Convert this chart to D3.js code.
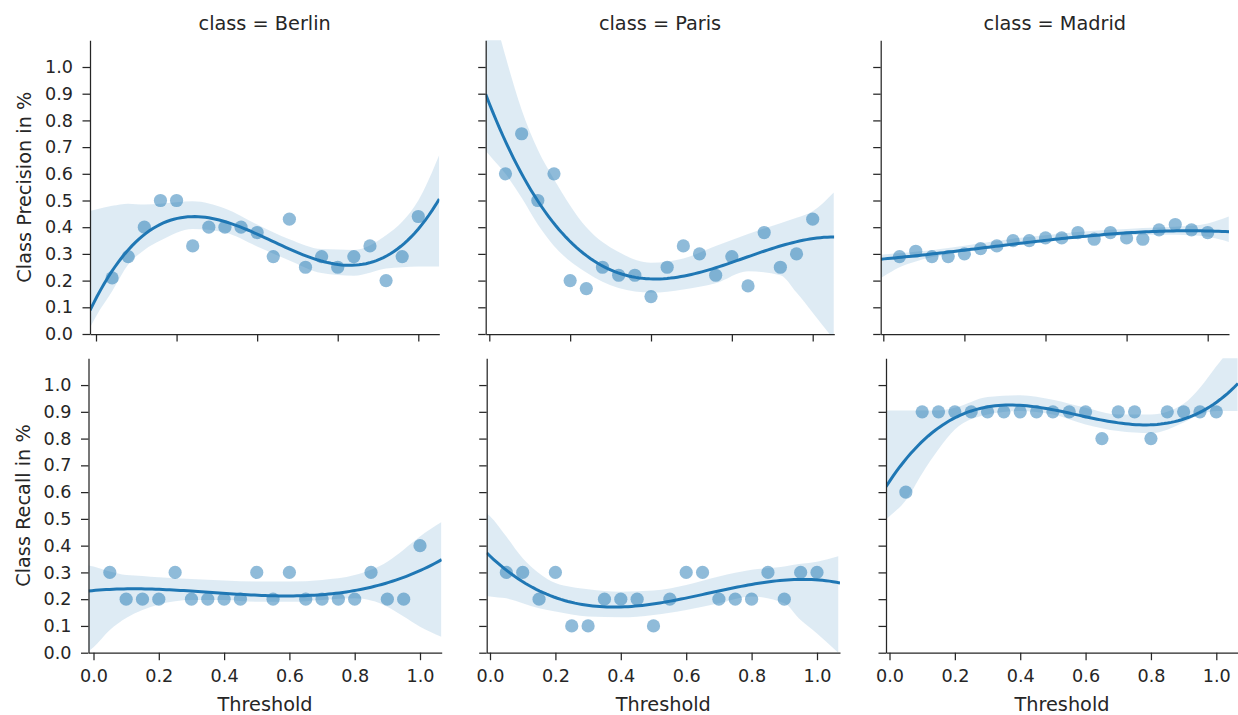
<!DOCTYPE html>
<html>
<head>
<meta charset="utf-8">
<script src="https://cdn.jsdelivr.net/npm/d3@7"></script>
<style>
  body { margin: 0; background: #fff; }
  svg { display: block; font-family: "DejaVu Sans", sans-serif; }
</style>
</head>
<body>
<svg id="chart" width="1238" height="715"></svg>
<script>
// data
var thresholds = [0.05, 0.10, 0.15, 0.20, 0.25, 0.30, 0.35, 0.40, 0.45, 0.50,
                  0.55, 0.60, 0.65, 0.70, 0.75, 0.80, 0.85, 0.90, 0.95, 1.00];
var classes = ["Berlin", "Paris", "Madrid"];

var berlinPrecision = [0.21, 0.29, 0.40, 0.50, 0.50, 0.33, 0.40, 0.40, 0.40, 0.38,
                       0.29, 0.43, 0.25, 0.29, 0.25, 0.29, 0.33, 0.20, 0.29, 0.44];
var parisPrecision  = [0.60, 0.75, 0.50, 0.60, 0.20, 0.17, 0.25, 0.22, 0.22, 0.14,
                       0.25, 0.33, 0.30, 0.22, 0.29, 0.18, 0.38, 0.25, 0.30, 0.43];
var madridPrecision = [0.29, 0.31, 0.29, 0.29, 0.30, 0.32, 0.33, 0.35, 0.35, 0.36,
                       0.36, 0.38, 0.355, 0.38, 0.36, 0.355, 0.39, 0.41, 0.39, 0.38];

var berlinRecall = [0.3, 0.2, 0.2, 0.2, 0.3, 0.2, 0.2, 0.2, 0.2, 0.3,
                    0.2, 0.3, 0.2, 0.2, 0.2, 0.2, 0.3, 0.2, 0.2, 0.4];
var parisRecall  = [0.3, 0.3, 0.2, 0.3, 0.1, 0.1, 0.2, 0.2, 0.2, 0.1,
                    0.2, 0.3, 0.3, 0.2, 0.2, 0.2, 0.3, 0.2, 0.3, 0.3];
var madridRecall = [0.6, 0.9, 0.9, 0.9, 0.9, 0.9, 0.9, 0.9, 0.9, 0.9,
                    0.9, 0.9, 0.8, 0.9, 0.9, 0.8, 0.9, 0.9, 0.9, 0.9];

// confidence band edges (bootstrap band)
var bandX = [-0.02, 0.0, 0.05, 0.1, 0.15, 0.2, 0.3, 0.4, 0.5, 0.6, 0.7, 0.8, 0.9, 0.95, 1.0, 1.065];
var berlinPrecisionHi = [0.46, 0.466, 0.48, 0.488, 0.485, 0.488, 0.497, 0.47, 0.41, 0.355, 0.318, 0.315, 0.37, 0.42, 0.50, 0.67];
var berlinPrecisionLo = [0.02, 0.066, 0.16, 0.26, 0.315, 0.35, 0.393, 0.38, 0.328, 0.275, 0.228, 0.218, 0.245, 0.25, 0.253, 0.253];
var parisPrecisionHi  = [1.37, 1.27, 1.04, 0.84, 0.69, 0.58, 0.40, 0.307, 0.267, 0.283, 0.33, 0.375, 0.415, 0.435, 0.46, 0.53];
var parisPrecisionLo  = [0.70, 0.67, 0.60, 0.51, 0.41, 0.33, 0.23, 0.172, 0.155, 0.167, 0.19, 0.235, 0.22, 0.155, 0.08, -0.02];
var madridPrecisionHi = [0.296, 0.298, 0.302, 0.308, 0.314, 0.322, 0.34, 0.357, 0.37, 0.382, 0.39, 0.397, 0.402, 0.405, 0.414, 0.44];
var madridPrecisionLo = [0.20, 0.215, 0.25, 0.272, 0.288, 0.298, 0.318, 0.335, 0.348, 0.358, 0.366, 0.372, 0.372, 0.37, 0.364, 0.345];
var berlinRecallHi = [0.328, 0.322, 0.303, 0.29, 0.287, 0.282, 0.275, 0.27, 0.266, 0.266, 0.272, 0.29, 0.34, 0.385, 0.434, 0.487];
var berlinRecallLo = [0.0, 0.02, 0.085, 0.13, 0.16, 0.18, 0.197, 0.197, 0.19, 0.19, 0.197, 0.203, 0.172, 0.135, 0.097, 0.06];
var parisRecallHi  = [0.53, 0.51, 0.434, 0.353, 0.297, 0.26, 0.237, 0.228, 0.232, 0.253, 0.285, 0.31, 0.322, 0.332, 0.34, 0.36];
var parisRecallLo  = [0.215, 0.21, 0.203, 0.185, 0.166, 0.154, 0.135, 0.132, 0.141, 0.16, 0.185, 0.21, 0.185, 0.122, 0.072, 0.0];
var madridRecallHi = [0.905, 0.905, 0.905, 0.905, 0.905, 0.915, 0.955, 0.962, 0.945, 0.915, 0.89, 0.89, 0.93, 0.99, 1.07, 1.17];
var madridRecallLo = [0.49, 0.51, 0.57, 0.67, 0.76, 0.834, 0.89, 0.903, 0.89, 0.853, 0.828, 0.82, 0.86, 0.89, 0.903, 0.903];

var yTicks = [0.0, 0.1, 0.2, 0.3, 0.4, 0.5, 0.6, 0.7, 0.8, 0.9, 1.0];
var xTicksTop = [0.0, 0.25, 0.5, 0.75, 1.0];
var xTicksBottom = [0.0, 0.2, 0.4, 0.6, 0.8, 1.0];

var blue = "#1f77b4";
var ink = "#262626";

// panel geometry (l/r = spine ends, x0/x1 = where 0 and 1 sit)
var rows = [
  { label: "Class Precision in %", top: 40.3, bottom: 334, labelX: 31, xTicks: xTicksTop, showX: false,
    series: [berlinPrecision, parisPrecision, madridPrecision],
    hi: [berlinPrecisionHi, parisPrecisionHi, madridPrecisionHi],
    lo: [berlinPrecisionLo, parisPrecisionLo, madridPrecisionLo],
    cols: [{l: 90, x0: 96, x1: 418.3, r: 439.3},
           {l: 485.7, x0: 489.3, x1: 812.7, r: 834.3},
           {l: 880.7, x0: 883.3, x1: 1207.7, r: 1229}] },
  { label: "Class Recall in %", top: 358.3, bottom: 652.7, labelX: 29.5, xTicks: xTicksBottom, showX: true,
    series: [berlinRecall, parisRecall, madridRecall],
    hi: [berlinRecallHi, parisRecallHi, madridRecallHi],
    lo: [berlinRecallLo, parisRecallLo, madridRecallLo],
    cols: [{l: 88.5, x0: 93.5, x1: 420, r: 441.7},
           {l: 486.7, x0: 490, x1: 817, r: 840},
           {l: 886, x0: 889.5, x1: 1216.3, r: 1238}] }
];

// cubic least squares fit (order=3 regression line)
function invert(m) {
  var n = m.length, a = m.map(function(r, i){
    return r.concat(d3.range(n).map(function(j){ return i === j ? 1 : 0; }));
  });
  for (var c = 0; c < n; c++) {
    var p = c;
    for (var r = c + 1; r < n; r++) if (Math.abs(a[r][c]) > Math.abs(a[p][c])) p = r;
    var tmp = a[c]; a[c] = a[p]; a[p] = tmp;
    var piv = a[c][c];
    for (var j = 0; j < 2 * n; j++) a[c][j] /= piv;
    for (var r2 = 0; r2 < n; r2++) {
      if (r2 === c) continue;
      var f = a[r2][c];
      for (var j2 = 0; j2 < 2 * n; j2++) a[r2][j2] -= f * a[c][j2];
    }
  }
  return a.map(function(r){ return r.slice(n); });
}

function polyFit(xs, ys, deg) {
  var p = deg + 1;
  var rowsX = xs.map(function(x){ return d3.range(p).map(function(k){ return Math.pow(x, k); }); });
  var xtx = d3.range(p).map(function(i){
    return d3.range(p).map(function(j){ return d3.sum(rowsX, function(r){ return r[i] * r[j]; }); });
  });
  var xty = d3.range(p).map(function(i){ return d3.sum(rowsX, function(r, k){ return r[i] * ys[k]; }); });
  var inv = invert(xtx);
  var beta = inv.map(function(r){ return d3.sum(r, function(v, j){ return v * xty[j]; }); });
  return function(x) {
    return d3.sum(beta, function(b, k){ return b * Math.pow(x, k); });
  };
}

var svg = d3.select("#chart");

rows.forEach(function(row, ri){
  row.cols.forEach(function(col, ci){
    var x = d3.scaleLinear().domain([0, 1]).range([col.x0, col.x1]);
    x.domain([x.invert(col.l), x.invert(col.r)]).range([col.l, col.r]);
    var y = d3.scaleLinear().domain([0, 1.1]).range([row.bottom, row.top]);

    var g = svg.append("g").attr("class", "panel");
    var clipId = "clip" + ri + ci;
    g.append("clipPath").attr("id", clipId).append("rect")
      .attr("x", col.l).attr("y", row.top)
      .attr("width", col.r - col.l).attr("height", row.bottom - row.top);

    var vals = row.series[ci];
    var hi = row.hi[ci], lo = row.lo[ci];
    var fit = polyFit(thresholds, vals, 3);
    var dom = x.domain();
    var grid = d3.range(0, 101).map(function(i){ return dom[0] + (dom[1] - dom[0]) * i / 100; });

    var plot = g.append("g").attr("clip-path", "url(#" + clipId + ")");

    plot.selectAll(".dot")
      .data(thresholds).enter()
      .append("circle")
      .attr("class", "dot")
      .attr("cx", function(t){ return x(t); })
      .attr("cy", function(t, i){ return y(vals[i]); })
      .attr("r", 6.6)
      .attr("fill", blue)
      .attr("fill-opacity", 0.5);

    plot.append("path")
      .datum(bandX)
      .attr("fill", blue)
      .attr("fill-opacity", 0.15)
      .attr("d", d3.area()
        .curve(d3.curveMonotoneX)
        .x(function(d){ return x(d); })
        .y0(function(d, i){ return y(lo[i]); })
        .y1(function(d, i){ return y(hi[i]); }));

    plot.append("path")
      .datum(grid)
      .attr("fill", "none")
      .attr("stroke", blue)
      .attr("stroke-width", 3)
      .attr("d", d3.line()
        .x(function(d){ return x(d); })
        .y(function(d){ return y(fit(d)); }));

    // axes
    var yAxis = d3.axisLeft(y).tickValues(yTicks).tickSize(7.5).tickSizeOuter(0).tickPadding(9.5)
      .tickFormat(ci === 0 ? d3.format(".1f") : "");
    var ya = g.append("g").attr("transform", "translate(" + col.l + ",0)").call(yAxis);

    var xAxis = d3.axisBottom(x).tickValues(row.xTicks).tickSize(7.5).tickSizeOuter(0).tickPadding(9.5)
      .tickFormat(row.showX ? d3.format(".1f") : "");
    var xa = g.append("g").attr("transform", "translate(0," + row.bottom + ")").call(xAxis);

    [ya, xa].forEach(function(a){
      a.select(".domain").attr("stroke", ink).attr("stroke-width", 1.25);
      a.selectAll(".tick line").attr("stroke", ink).attr("stroke-width", 1.25);
      a.selectAll(".tick text").attr("fill", ink).style("font-size", "17.6px")
        .style("font-family", "DejaVu Sans");
    });

    if (ri === 0) {
      g.append("text")
        .attr("x", (col.l + col.r) / 2).attr("y", 30)
        .attr("text-anchor", "middle").attr("fill", ink)
        .style("font-size", "19.3px")
        .text("class = " + classes[ci]);
    }
    if (row.showX) {
      g.append("text")
        .attr("x", (col.l + col.r) / 2).attr("y", 710.5)
        .attr("text-anchor", "middle").attr("fill", ink)
        .style("font-size", "19.3px")
        .text("Threshold");
    }
    if (ci === 0) {
      g.append("text")
        .attr("transform", "translate(" + row.labelX + "," + (row.top + row.bottom) / 2 + ") rotate(-90)")
        .attr("text-anchor", "middle").attr("fill", ink)
        .style("font-size", "19.3px")
        .text(row.label);
    }
  });
});
</script>
</body>
</html>
